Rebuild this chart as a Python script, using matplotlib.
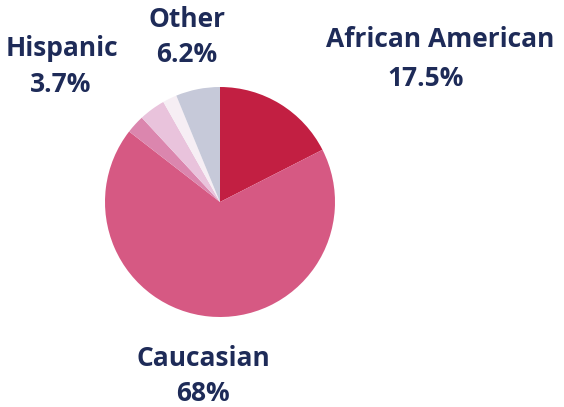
import matplotlib

matplotlib.use("Agg")
import matplotlib.pyplot as plt

# slices, clockwise from 12 o'clock
groups = ["African American", "Caucasian", "Multiracial", "Hispanic", "Asian", "Other"]
shares = [17.5, 68.0, 2.6, 3.7, 2.0, 6.2]
colors = ["#c21f42", "#d65983", "#db86ae", "#e9c3dc", "#f6eef4", "#c6c9d9"]

# labels shown around the pie: (name, value text)
label_names = ["Other", "Hispanic", "African American", "Caucasian"]
label_values = ["6.2%", "3.7%", "17.5%", "68%"]

W, H = 564, 407
TEXT = "#1e2b58"

fig = plt.figure(figsize=(W / 100, H / 100), dpi=100)
ax = fig.add_axes([0, 0, 1, 1])

ax.pie(shares, colors=colors, startangle=90, counterclock=False,
       center=(220, H - 202), radius=115, frame=True,
       wedgeprops=dict(linewidth=0))
ax.set_xlim(0, W)
ax.set_ylim(0, H)
ax.set_aspect("equal")
ax.axis("off")

# name x, name baseline, value x, value baseline (image pixels from top)
spots = [(187, 27, 187, 62),
         (62, 56, 61, 92),
         (440, 47, 426, 86),
         (203, 366, 203, 401)]

font = dict(family=["Open Sans", "DejaVu Sans"], fontweight="bold",
            fontsize=19, color=TEXT, ha="center", va="baseline")
for name, val, (nx, ny, vx, vy) in zip(label_names, label_values, spots):
    ax.text(nx, H - ny, name, **font)
    ax.text(vx, H - vy, val, **font)

fig.savefig("out.png", dpi=100)
